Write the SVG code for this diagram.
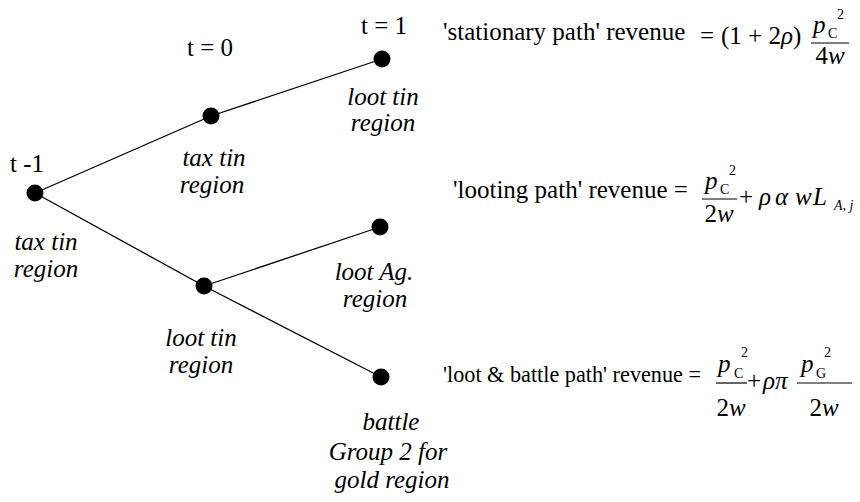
<svg xmlns="http://www.w3.org/2000/svg" width="860" height="502" viewBox="0 0 860 502" font-family="Liberation Serif, DejaVu Serif, Noto Serif, Times, Nimbus Roman, serif">
<style>
text{fill:#000;font-family:"Liberation Serif",LiberationSerif,"DejaVu Serif","Noto Serif",Times,"Nimbus Roman No9 L",serif}
.lbl{font-size:25px;font-style:italic;text-anchor:middle}
.t{font-size:25px}
.eq{font-size:25px}
.i{font-style:italic}
.s{font-size:14px}
.c{text-anchor:middle}
.dot{fill:#000}
.edge{stroke:#000;stroke-width:1.3;fill:none}
.bar{stroke:#000;stroke-width:1.2}
</style>
<rect width="860" height="502" fill="#fff"/>
<g id="connectors">
<line class="edge" x1="35" y1="193" x2="211" y2="116"/>
<line class="edge" x1="211" y1="116" x2="382" y2="59"/>
<line class="edge" x1="35" y1="193" x2="204" y2="286"/>
<line class="edge" x1="204" y1="286" x2="380" y2="227"/>
<line class="edge" x1="204" y1="286" x2="381" y2="377"/>
</g>
<g id="node-t-1">
<circle class="dot" cx="35" cy="193" r="8.5"/>
<text class="t" x="10" y="172">t -1</text>
<text class="lbl" x="46" y="250">tax tin</text>
<text class="lbl" x="46" y="277">region</text>
</g>
<g id="node-t0-tax">
<circle class="dot" cx="211" cy="116" r="8.5"/>
<text class="t c" x="210" y="56">t = 0</text>
<text class="lbl" x="214" y="166">tax tin</text>
<text class="lbl" x="212" y="193">region</text>
</g>
<g id="node-t1-loot-tin">
<circle class="dot" cx="382" cy="59" r="8.5"/>
<text class="t c" x="384" y="34">t = 1</text>
<text class="lbl" x="383" y="105">loot tin</text>
<text class="lbl" x="383" y="131">region</text>
</g>
<g id="node-t1-loot-ag">
<circle class="dot" cx="380" cy="227" r="8.5"/>
<text class="lbl" x="374" y="280">loot Ag.</text>
<text class="lbl" x="375" y="307">region</text>
</g>
<g id="node-t0-loot">
<circle class="dot" cx="204" cy="286" r="8.5"/>
<text class="lbl" x="201" y="346">loot tin</text>
<text class="lbl" x="201" y="373">region</text>
</g>
<g id="node-t1-battle">
<circle class="dot" cx="381" cy="377" r="8.5"/>
<text class="lbl" x="391" y="430">battle</text>
<text class="lbl" x="388" y="460">Group 2 for</text>
<text class="lbl" x="392" y="488">gold region</text>
</g>
<g id="formula-stationary">
<text class="eq" x="443" y="40">'stationary path' revenue</text>
<text class="eq" x="700" y="44">=</text>
<text class="eq" x="721" y="44">(1 + 2<tspan class="i">ρ</tspan>)</text>
<text class="eq i" x="813" y="33">p</text>
<text class="s" x="828" y="38">C</text>
<text class="s" x="837" y="19">2</text>
<line class="bar" x1="811" y1="43" x2="849" y2="43"/>
<text class="eq" x="830" y="64" text-anchor="middle">4<tspan class="i">w</tspan></text>
</g>
<g id="formula-looting">
<text class="eq" x="453" y="198">'looting path' revenue =</text>
<text class="eq i" x="705" y="189">p</text>
<text class="s" x="720" y="194">C</text>
<text class="s" x="729" y="175">2</text>
<line class="bar" x1="702" y1="199" x2="737" y2="199"/>
<text class="eq" x="719" y="222" text-anchor="middle">2<tspan class="i">w</tspan></text>
<text class="eq" x="739" y="205">+</text>
<text class="eq i" x="759" y="205">ρ</text>
<text class="eq i" x="775" y="205">α</text>
<text class="eq i" x="795" y="205">w</text>
<text class="eq i" x="813" y="205">L</text>
<text class="s i" x="834" y="210">A, j</text>
</g>
<g id="formula-battle">
<text x="443" y="382" font-size="23" textLength="258" lengthAdjust="spacingAndGlyphs">'loot &amp; battle path' revenue =</text>
<text class="eq i" x="718" y="372">p</text>
<text class="s" x="734" y="378">C</text>
<text class="s" x="741" y="357">2</text>
<line class="bar" x1="716" y1="383" x2="747" y2="383"/>
<text class="eq" x="731" y="416" text-anchor="middle">2<tspan class="i">w</tspan></text>
<text class="eq" x="747" y="389">+</text>
<text class="eq i" x="763" y="389">ρπ</text>
<text class="eq i" x="801" y="372">p</text>
<text class="s" x="816" y="378">G</text>
<text class="s" x="824" y="357">2</text>
<line class="bar" x1="797" y1="383" x2="852" y2="383"/>
<text class="eq" x="824" y="416" text-anchor="middle">2<tspan class="i">w</tspan></text>
</g>
</svg>
